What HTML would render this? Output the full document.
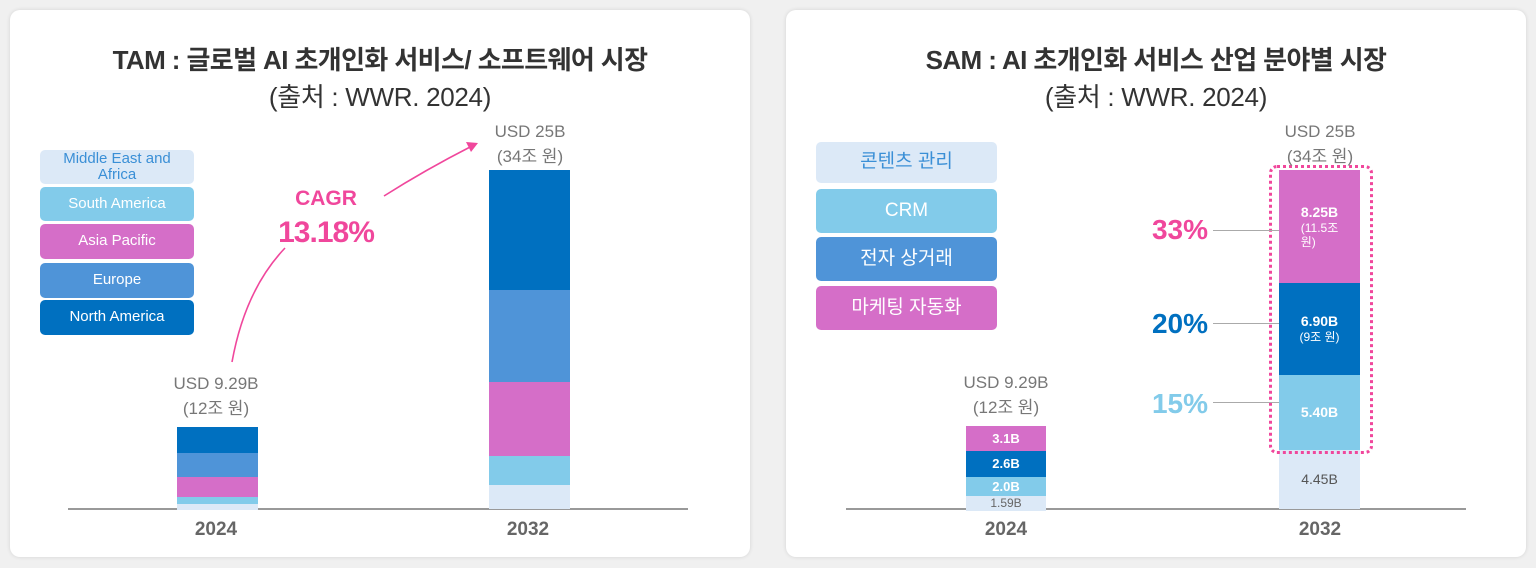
<!DOCTYPE html>
<html><head><meta charset="utf-8"><style>
*{margin:0;padding:0;box-sizing:border-box}
body{width:1536px;height:568px;background:#f0f0f0;position:relative;overflow:hidden;font-family:"Liberation Sans","Noto Sans CJK KR",sans-serif}
.card{position:absolute;background:#fff;border-radius:10px;box-shadow:0 0 4px rgba(0,0,0,.12)}
.a{position:absolute}
.t{position:absolute;text-align:center;white-space:nowrap}
.title{font-size:26px;font-weight:bold;color:#333;letter-spacing:-0.6px}
.sub{font-size:26px;color:#333;letter-spacing:-0.3px}
.lg{position:absolute;border-radius:5px;color:#fff;text-align:center;display:flex;align-items:center;justify-content:center;line-height:1.1}
.gray{color:#777;font-size:17px;line-height:25px}
.yr{font-size:19px;font-weight:bold;color:#666}
.bl{color:#fff;font-weight:bold;font-size:13px;display:flex;flex-direction:column;align-items:center;justify-content:center;position:absolute;line-height:1.2}
</style></head><body>
<div class="card" style="left:10px;top:10px;width:740px;height:547px"></div>
<div class="card" style="left:786px;top:10px;width:740px;height:547px"></div>

<!-- LEFT -->
<div class="t title" style="left:10px;width:740px;top:40px">TAM : 글로벌 AI 초개인화 서비스/ 소프트웨어 시장</div>
<div class="t sub" style="left:10px;width:740px;top:77px">(출처 : WWR. 2024)</div>

<div class="lg" style="left:40px;top:150px;width:154px;height:34px;background:#dce9f7;color:#3a8fd6;font-size:15px">Middle East and<br>Africa</div>
<div class="lg" style="left:40px;top:187px;width:154px;height:34px;background:#82cbea;font-size:15px">South America</div>
<div class="lg" style="left:40px;top:224px;width:154px;height:35px;background:#d56ec8;font-size:15px">Asia Pacific</div>
<div class="lg" style="left:40px;top:263px;width:154px;height:35px;background:#4f94d8;font-size:15px">Europe</div>
<div class="lg" style="left:40px;top:300px;width:154px;height:35px;background:#0070c0;font-size:15px">North America</div>

<div class="a" style="left:68px;top:508px;width:620px;height:2px;background:#999"></div>
<div class="a" style="left:177px;top:427px;width:81px;height:26px;background:#0070c0"></div>
<div class="a" style="left:177px;top:453px;width:81px;height:24px;background:#4f94d8"></div>
<div class="a" style="left:177px;top:477px;width:81px;height:20px;background:#d56ec8"></div>
<div class="a" style="left:177px;top:497px;width:81px;height:7px;background:#82cbea"></div>
<div class="a" style="left:177px;top:504px;width:81px;height:6px;background:#dce9f7"></div>

<div class="a" style="left:489px;top:170px;width:81px;height:120px;background:#0070c0"></div>
<div class="a" style="left:489px;top:290px;width:81px;height:92px;background:#4f94d8"></div>
<div class="a" style="left:489px;top:382px;width:81px;height:74px;background:#d56ec8"></div>
<div class="a" style="left:489px;top:456px;width:81px;height:29px;background:#82cbea"></div>
<div class="a" style="left:489px;top:485px;width:81px;height:24px;background:#dce9f7"></div>

<div class="t gray" style="left:136px;width:160px;top:371px">USD 9.29B<br>(12조 원)</div>
<div class="t gray" style="left:450px;width:160px;top:119px">USD 25B<br>(34조 원)</div>
<div class="t" style="left:256px;width:140px;top:187px;color:#f0479c;font-weight:bold;font-size:21px">CAGR</div>
<div class="t" style="left:246px;width:160px;top:216px;color:#f0479c;font-weight:bold;font-size:30px;letter-spacing:-1px">13.18%</div>
<svg class="a" style="left:0;top:0" width="768" height="568">
<path d="M232,362 Q245,290 285,248" stroke="#f0479c" stroke-width="1.6" fill="none"/>
<path d="M384,196 Q425,170 472,146" stroke="#f0479c" stroke-width="1.6" fill="none"/>
<path d="M478,143 L466,142 L471,152 Z" fill="#f0479c"/>
</svg>
<div class="t yr" style="left:166px;width:100px;top:519px">2024</div>
<div class="t yr" style="left:478px;width:100px;top:519px">2032</div>

<!-- RIGHT -->
<div class="t title" style="left:786px;width:740px;top:40px">SAM : AI 초개인화 서비스 산업 분야별 시장</div>
<div class="t sub" style="left:786px;width:740px;top:77px">(출처 : WWR. 2024)</div>

<div class="lg" style="left:816px;top:142px;width:181px;height:41px;background:#dce9f7;color:#3a8fd6;font-size:19px">콘텐츠 관리</div>
<div class="lg" style="left:816px;top:189px;width:181px;height:44px;background:#82cbea;font-size:19px">CRM</div>
<div class="lg" style="left:816px;top:237px;width:181px;height:44px;background:#4f94d8;font-size:19px">전자 상거래</div>
<div class="lg" style="left:816px;top:286px;width:181px;height:44px;background:#d56ec8;font-size:19px">마케팅 자동화</div>

<div class="a" style="left:846px;top:508px;width:620px;height:2px;background:#999"></div>
<div class="bl" style="left:966px;top:426px;width:80px;height:25px;background:#d56ec8">3.1B</div>
<div class="bl" style="left:966px;top:451px;width:80px;height:26px;background:#0070c0">2.6B</div>
<div class="bl" style="left:966px;top:477px;width:80px;height:19px;background:#82cbea">2.0B</div>
<div class="bl" style="left:966px;top:496px;width:80px;height:15px;background:#dce9f7;color:#666;font-weight:normal;font-size:12px">1.59B</div>

<div class="bl" style="left:1279px;top:170px;width:81px;height:113px;background:#d56ec8;font-size:14px">8.25B<span style="font-weight:normal;font-size:12px">(11.5조<br>원)</span></div>
<div class="bl" style="left:1279px;top:283px;width:81px;height:92px;background:#0070c0;font-size:14px">6.90B<span style="font-weight:normal;font-size:12px">(9조 원)</span></div>
<div class="bl" style="left:1279px;top:375px;width:81px;height:75px;background:#82cbea;font-size:14px">5.40B</div>
<div class="bl" style="left:1279px;top:450px;width:81px;height:59px;background:#dce9f7;color:#555;font-weight:normal;font-size:14px">4.45B</div>
<div class="a" style="left:1269px;top:165px;width:104px;height:289px;border:3px dotted #f0479c;border-radius:8px"></div>

<div class="t gray" style="left:926px;width:160px;top:370px">USD 9.29B<br>(12조 원)</div>
<div class="t gray" style="left:1240px;width:160px;top:119px">USD 25B<br>(34조 원)</div>

<div class="t" style="left:1130px;width:100px;top:214px;color:#f0479c;font-weight:bold;font-size:28px">33%</div>
<div class="t" style="left:1130px;width:100px;top:308px;color:#0070c0;font-weight:bold;font-size:28px">20%</div>
<div class="t" style="left:1130px;width:100px;top:388px;color:#82cbea;font-weight:bold;font-size:28px">15%</div>
<div class="a" style="left:1213px;top:230px;width:66px;height:1px;background:#aaa"></div>
<div class="a" style="left:1213px;top:323px;width:66px;height:1px;background:#aaa"></div>
<div class="a" style="left:1213px;top:402px;width:66px;height:1px;background:#aaa"></div>

<div class="t yr" style="left:956px;width:100px;top:519px">2024</div>
<div class="t yr" style="left:1270px;width:100px;top:519px">2032</div>
</body></html>
